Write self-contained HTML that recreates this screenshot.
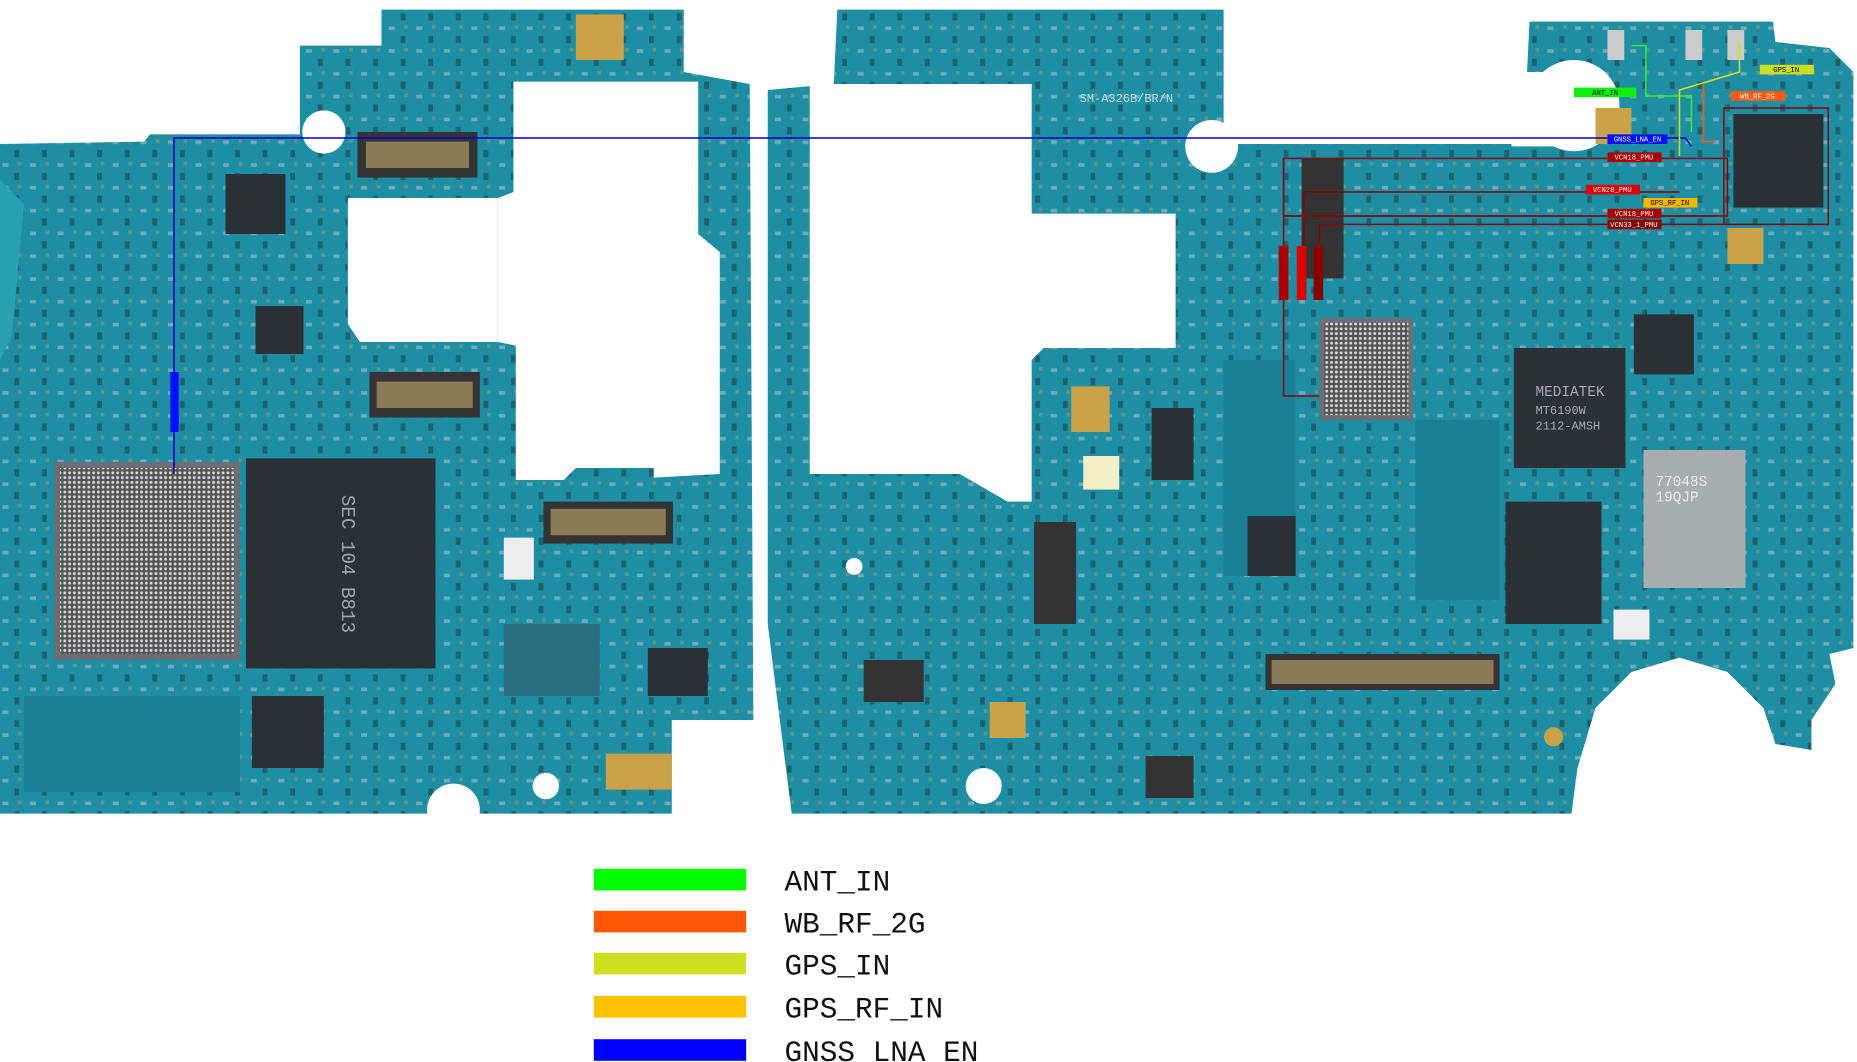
<!DOCTYPE html>
<html><head><meta charset="utf-8"><style>
html,body{margin:0;padding:0;background:#fff;}
svg{display:block}
</style></head><body>
<svg width="1857" height="1062" viewBox="0 0 1548 885" preserveAspectRatio="none" xmlns="http://www.w3.org/2000/svg" font-family="Liberation Mono, DejaVu Sans Mono, monospace">
<defs>
<pattern id="dots" width="4" height="4" patternUnits="userSpaceOnUse"><rect width="4" height="4" fill="#555"/><circle cx="2" cy="2" r="1.2" fill="#ddd"/></pattern>
<pattern id="comp" width="23" height="19" patternUnits="userSpaceOnUse"><rect x="2" y="3" width="5" height="3" fill="#b9c4c6" opacity="0.55"/><rect x="12" y="11" width="4" height="6" fill="#233" opacity="0.5"/><rect x="15" y="2" width="3" height="3" fill="#c9a24a" opacity="0.4"/></pattern>
</defs>
<rect width="1548" height="885" fill="#fff"/>
<!-- LEFT BOARD -->
<path id="lb" d="M0,120 L120,118 L125,112 L250,112 L250,38 L318,38 L318,8 L570,8 L570,60 L625,70 L628,600 L560,600 L560,678 L0,678 Z" fill="#1d8ea3"/>
<path d="M0,120 L120,118 L125,112 L250,112 L250,38 L318,38 L318,8 L570,8 L570,60 L625,70 L628,600 L560,600 L560,678 L0,678 Z" fill="url(#comp)"/>
<path d="M428,68 L582,68 L582,195 L600,210 L600,395 L545,398 L545,390 L480,390 L470,400 L430,400 L430,288 L415,285 L415,165 L428,160 Z" fill="#fff"/>
<path d="M290,165 L415,165 L415,285 L300,285 L290,270 Z" fill="#fff"/>
<circle cx="270" cy="110" r="18" fill="#fff"/>
<path d="M0,150 L20,170 L10,280 L0,300 Z" fill="#2aa0b3"/>
<!-- left chips -->
<rect x="45" y="385" width="155" height="165" fill="#6b6f72"/>
<rect x="50" y="390" width="145" height="155" fill="url(#dots)"/>
<rect x="205" y="382" width="158" height="175" fill="#2b3034"/>
<text x="285" y="470" fill="#9aa" font-size="16" transform="rotate(90 285 470)" text-anchor="middle">SEC 104 B813</text>
<rect x="298" y="110" width="100" height="38" fill="#333"/>
<rect x="305" y="118" width="86" height="22" fill="#8a7a55"/>
<rect x="308" y="310" width="92" height="38" fill="#333"/>
<rect x="314" y="318" width="80" height="22" fill="#8a7a55"/>
<rect x="453" y="418" width="108" height="35" fill="#333"/>
<rect x="459" y="424" width="96" height="22" fill="#8a7a55"/>
<rect x="480" y="12" width="40" height="38" fill="#c9a24a"/>
<rect x="188" y="145" width="50" height="50" fill="#2b3034"/>
<rect x="213" y="255" width="40" height="40" fill="#2b3034"/>
<rect x="210" y="580" width="60" height="60" fill="#2b3034"/>
<rect x="420" y="520" width="80" height="60" fill="#2a6f80"/>
<rect x="540" y="540" width="50" height="40" fill="#2b3034"/>
<rect x="505" y="628" width="55" height="30" fill="#c9a24a"/>
<circle cx="455" cy="655" r="11" fill="#fff"/>
<circle cx="378" cy="675" r="22" fill="#fff"/>
<rect x="420" y="448" width="25" height="35" fill="#eee"/>
<rect x="20" y="580" width="180" height="80" fill="#1a7f94"/>
<!-- RIGHT BOARD -->
<path d="M640,75 L695,70 L698,8 L1020,8 L1020,120 L1270,120 L1275,18 L1478,18 L1480,35 L1525,40 L1545,60 L1545,540 L1525,545 L1530,570 L1510,600 L1510,625 L1480,620 L1470,590 L1440,560 L1400,548 L1360,560 L1330,590 L1315,640 L1310,678 L660,678 L650,600 L640,520 Z" fill="#1d8ea3"/>
<path d="M640,75 L695,70 L698,8 L1020,8 L1020,120 L1270,120 L1275,18 L1478,18 L1480,35 L1525,40 L1545,60 L1545,540 L1525,545 L1530,570 L1510,600 L1510,625 L1480,620 L1470,590 L1440,560 L1400,548 L1360,560 L1330,590 L1315,640 L1310,678 L660,678 L650,600 L640,520 Z" fill="url(#comp)"/>
<path d="M675,70 L860,70 L860,178 L980,178 L980,290 L870,290 L860,300 L860,418 L840,418 L800,395 L675,395 Z" fill="#fff"/>
<circle cx="1010" cy="122" r="22" fill="#fff"/>
<circle cx="1312" cy="88" r="38" fill="#fff"/>
<rect x="1260" y="60" width="50" height="62" fill="#fff"/>
<circle cx="712" cy="472" r="7" fill="#fff"/>
<circle cx="820" cy="655" r="15" fill="#fff"/>
<circle cx="1295" cy="614" r="8" fill="#c9a24a"/>
<!-- right chips -->
<rect x="1100" y="265" width="78" height="85" fill="#6b6f72"/>
<rect x="1104" y="269" width="70" height="77" fill="url(#dots)"/>
<rect x="1262" y="290" width="93" height="100" fill="#2b3034"/>
<text x="1280" y="330" fill="#aab" font-size="12">MEDIATEK</text>
<text x="1280" y="345" fill="#aab" font-size="10">MT6190W</text>
<text x="1280" y="358" fill="#aab" font-size="10">2112-AMSH</text>
<rect x="1370" y="375" width="85" height="115" fill="#a8adad"/>
<text x="1380" y="405" fill="#eee" font-size="12">77048S</text>
<text x="1380" y="418" fill="#eee" font-size="12">19QJP</text>
<rect x="1255" y="418" width="80" height="102" fill="#2b3034"/>
<rect x="1362" y="262" width="50" height="50" fill="#2b3034"/>
<rect x="1445" y="95" width="75" height="78" fill="#2b3034"/>
<rect x="1085" y="132" width="35" height="100" fill="#333"/>
<rect x="862" y="435" width="35" height="85" fill="#333"/>
<rect x="1055" y="545" width="195" height="30" fill="#333"/>
<rect x="1060" y="550" width="185" height="20" fill="#8a7a55"/>
<rect x="720" y="550" width="50" height="35" fill="#333"/>
<rect x="955" y="630" width="40" height="35" fill="#333"/>
<rect x="893" y="322" width="32" height="38" fill="#c9a24a"/>
<rect x="903" y="380" width="30" height="28" fill="#f3f0c8"/>
<rect x="1020" y="300" width="60" height="180" fill="#1a7f94"/>
<rect x="1180" y="350" width="70" height="150" fill="#1a7f94"/>
<rect x="960" y="340" width="35" height="60" fill="#2b3034"/>
<rect x="1040" y="430" width="40" height="50" fill="#2b3034"/>
<rect x="825" y="585" width="30" height="30" fill="#c9a24a"/>
<rect x="1440" y="190" width="30" height="30" fill="#c9a24a"/>
<rect x="1330" y="90" width="30" height="30" fill="#c9a24a"/>
<rect x="1340" y="25" width="14" height="25" fill="#ccc"/>
<rect x="1405" y="25" width="14" height="25" fill="#ccc"/>
<rect x="1440" y="25" width="14" height="25" fill="#ccc"/>
<rect x="1345" y="508" width="30" height="25" fill="#eee"/>
<text x="900" y="85" fill="#cde" font-size="10">SM-A326B/BR/N</text>
<!-- red nets -->
<g fill="none" stroke="#8b0000" stroke-width="1.2">
<rect x="1437" y="90" width="87" height="97"/>
<rect x="1070" y="132" width="370" height="48"/>
<path d="M1070,132 L1070,330 L1100,330"/>
<path d="M1087,160 L1400,160 M1087,160 L1087,210"/>
<path d="M1100,187 L1437,187 M1100,187 L1100,210"/>
<path d="M1070,180 L1430,180"/>
</g>
<!-- blue net -->
<path d="M145,395 L145,115 L1405,115 L1410,122" fill="none" stroke="#0000cc" stroke-width="1.3"/>
<rect x="142" y="310" width="7" height="50" fill="#0010ff"/>
<!-- green / yellow nets -->
<path d="M1360,38 L1372,38 L1372,80 L1410,80 L1410,110" fill="none" stroke="#33ee33" stroke-width="1.3"/>
<path d="M1450,35 L1450,60 L1400,75 L1400,130" fill="none" stroke="#cbe020" stroke-width="1.3"/>
<path d="M1420,70 L1420,118 L1430,118" fill="none" stroke="#ff5a10" stroke-width="1.3"/>
<g font-size="6" fill="#fff" text-anchor="middle">
<rect x="1312" y="73" width="52" height="8" fill="#10ee10"/><text x="1338" y="79" fill="#000">ANT_IN</text>
<rect x="1467" y="54" width="45" height="8" fill="#cddd22"/><text x="1489" y="60" fill="#000">GPS_IN</text>
<rect x="1443" y="76" width="45" height="8" fill="#ff5a10"/><text x="1465" y="82">WB_RF_2G</text>
<rect x="1340" y="112" width="50" height="8" fill="#0010ff"/><text x="1365" y="118">GNSS_LNA_EN</text>
<rect x="1340" y="127" width="45" height="8" fill="#a00"/><text x="1362" y="133">VCN18_PMU</text>
<rect x="1322" y="154" width="45" height="8" fill="#d00"/><text x="1344" y="160">VCN28_PMU</text>
<rect x="1370" y="165" width="45" height="8" fill="#f5b800"/><text x="1392" y="171" fill="#000">GPS_RF_IN</text>
<rect x="1340" y="174" width="45" height="8" fill="#a00"/><text x="1362" y="180">VCN18_PMU</text>
<rect x="1340" y="183" width="45" height="8" fill="#800"/><text x="1362" y="189">VCN33_1_PMU</text>
</g>
<rect x="1066" y="205" width="8" height="45" fill="#a00"/>
<rect x="1081" y="205" width="8" height="45" fill="#d00"/>
<rect x="1095" y="205" width="8" height="45" fill="#800"/>
<!-- legend -->
<g font-size="24.5" fill="#111">
<rect x="495" y="724" width="127" height="18" fill="#00ff00"/><text x="654" y="742">ANT_IN</text>
<rect x="495" y="759" width="127" height="18" fill="#ff560a"/><text x="654" y="777">WB_RF_2G</text>
<rect x="495" y="794" width="127" height="18" fill="#cddf20"/><text x="654" y="812">GPS_IN</text>
<rect x="495" y="830" width="127" height="18" fill="#ffc200"/><text x="654" y="848">GPS_RF_IN</text>
<rect x="495" y="866" width="127" height="18" fill="#0000ff"/><text x="654" y="884">GNSS_LNA_EN</text>
</g>
</svg>
</body></html>
